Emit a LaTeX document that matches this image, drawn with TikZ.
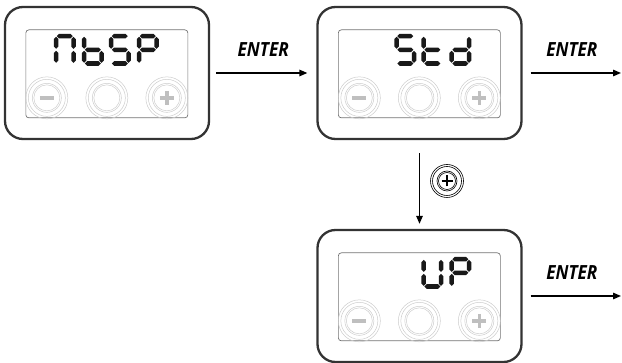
\documentclass[tikz,border=0pt]{standalone}
\usepackage{fontspec}
\newfontfamily\enterfont{Open Sans}[FakeStretch=0.88]
\usetikzlibrary{arrows.meta}

\tikzset{
  panel/.style={draw=black!80,line width=2.3pt,rounded corners=18pt,
    minimum width=204pt,minimum height=132pt,inner sep=0pt},
  screen/.style={draw=black!55,line width=.7pt,rounded corners=3pt},
  ring/.style={draw=black!20,line width=.5pt},
  sign/.style={draw=black!25,line width=3.4pt},
  lcdseg/.style={fill=black!90},
  flow/.style={line width=1.4pt,-{Triangle[length=8pt,width=6.5pt]}},
  enter/.style={font=\enterfont\bfseries\itshape\fontsize{19.5}{19.5}\selectfont,inner sep=0pt},
  % seven segments, slot 22 x 32, y pointing down
  seg/a/.style={insert path={(3,2.3)--(5.3,0)--(16.7,0)--(19,2.3)--(16.7,4.6)--(5.3,4.6)--cycle}},
  seg/g/.style={insert path={(3,16)--(5.3,13.7)--(16.7,13.7)--(19,16)--(16.7,18.3)--(5.3,18.3)--cycle}},
  seg/d/.style={insert path={(3,29.7)--(5.3,27.4)--(16.7,27.4)--(19,29.7)--(16.7,32)--(5.3,32)--cycle}},
  seg/f/.style={insert path={(2.3,3)--(4.6,5.3)--(4.6,12.7)--(2.3,15)--(0,12.7)--(0,5.3)--cycle}},
  seg/e/.style={insert path={(2.3,17)--(4.6,19.3)--(4.6,26.7)--(2.3,29)--(0,26.7)--(0,19.3)--cycle}},
  seg/b/.style={insert path={(19.7,3)--(22,5.3)--(22,12.7)--(19.7,15)--(17.4,12.7)--(17.4,5.3)--cycle}},
  seg/c/.style={insert path={(19.7,17)--(22,19.3)--(22,26.7)--(19.7,29)--(17.4,26.7)--(17.4,19.3)--cycle}},
}

% #1 panel, #2 list of slot/segments
\newcommand\lcdtext[2]{%
  \foreach \slot/\segs in {#2}{%
    \begin{scope}[shift={(#1.north west)},shift={(\slot,28)}]
      \foreach \s in \segs {\fill[lcdseg,seg/\s];}
    \end{scope}}}

\begin{document}
\begin{tikzpicture}[x=1pt,y=-1pt]
\useasboundingbox (0,0) rectangle (622,363);

% the three panels
\node[panel] (mbsp) at (107,73) {};
\node[panel] (std) at (419.5,73) {};
\node[panel] (up) at (419.5,296) {};

\foreach \p in {mbsp,std,up}{
  \draw[screen] ([shift={(22,24)}]\p.north west) rectangle ([shift={(184,112)}]\p.north west);
  \foreach \bx in {43,103,163}{
    \draw[ring] ([shift={(\bx,92)}]\p.north west) circle (21pt) circle (18.5pt) circle (14.5pt) circle (13pt);
  }
  \draw[sign] ([shift={(36,92)}]\p.north west) -- ([shift={(50,92)}]\p.north west);
  \draw[sign] ([shift={(156,92)}]\p.north west) -- ([shift={(170,92)}]\p.north west);
  \draw[sign] ([shift={(163,85)}]\p.north west) -- ([shift={(163,99)}]\p.north west);
}

% display texts
\lcdtext{mbsp}{50/{a,b,c,e,f},78/{f,e,d,c,g},105/{a,f,g,c,d},133/{a,b,f,g,e}}
\lcdtext{std}{78/{a,f,g,c,d},105/{f,e,d,g},133/{b,c,d,e,g}}
\lcdtext{up}{105/{b,c,d,e,f},133/{a,b,f,g,e}}

% connectors
\coordinate (out1) at (621,73);
\coordinate (out2) at (621,296);
\draw[flow,shorten <=6pt,shorten >=9pt] (mbsp) -- (std)
  node[enter,midway,above=16pt] {ENTER};
\draw[flow,shorten <=8pt] (std.east) -- (out1)
  node[enter,midway,above=16pt] {ENTER};
\draw[flow,shorten <=8pt] (up.east) -- (out2)
  node[enter,midway,above=16pt] {ENTER};
\draw[flow,shorten <=13pt,shorten >=5pt] (std) -- (up);

% plus key next to the down arrow
\coordinate (plus) at (447,181);
\draw[line width=.6pt] (plus) circle (16.5pt) circle (14.5pt) circle (10pt) circle (8.5pt);
\draw[line width=2.3pt] ([xshift=-5.5pt]plus) -- ([xshift=5.5pt]plus);
\draw[line width=2.3pt] ([yshift=-5.5pt]plus) -- ([yshift=5.5pt]plus);
\end{tikzpicture}
\end{document}
